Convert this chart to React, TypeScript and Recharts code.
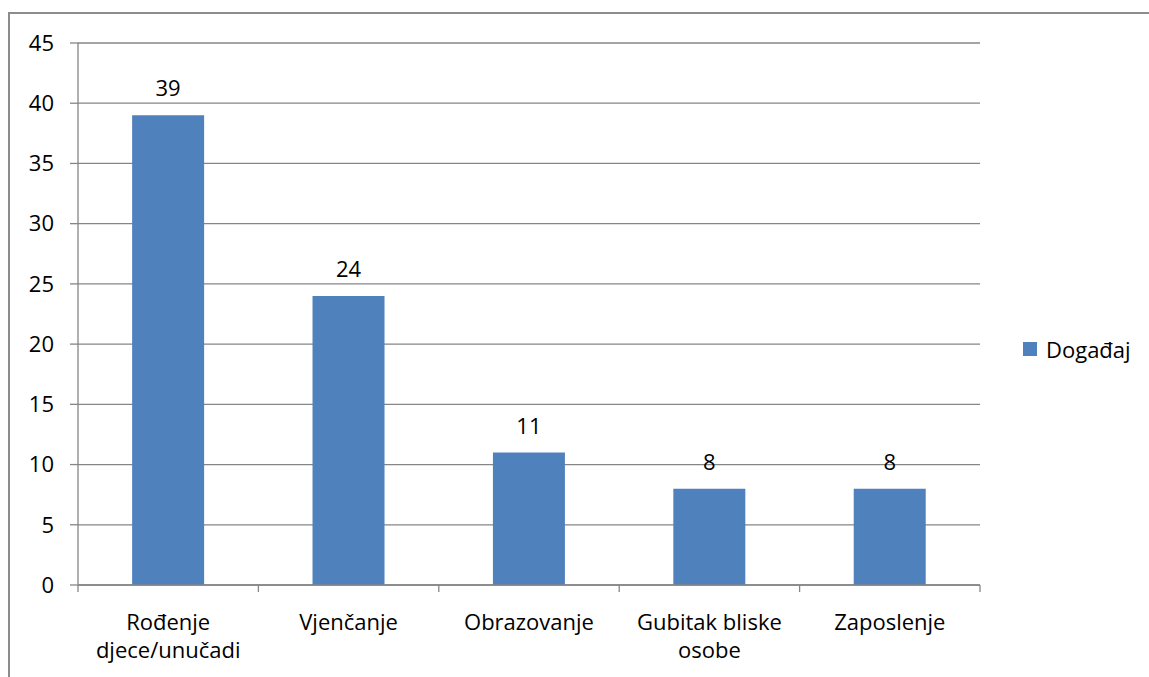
import React from 'react';
import { BarChart, Bar, XAxis, YAxis, CartesianGrid, LabelList } from 'recharts';

const categories = ['Rođenje djece/unučadi', 'Vjenčanje', 'Obrazovanje', 'Gubitak bliske osobe', 'Zaposlenje'];
// how each category label is broken onto lines under the axis
const tickLines = [['Rođenje', 'djece/unučadi'], ['Vjenčanje'], ['Obrazovanje'], ['Gubitak bliske', 'osobe'], ['Zaposlenje']];
const events = [39, 24, 11, 8, 8];
const yTicks = [0, 5, 10, 15, 20, 25, 30, 35, 40, 45];
const seriesName = 'Događaj';

const data = categories.map((name, i) => ({ name, value: events[i] }));

const FONT = '"Open Sans", Lato, sans-serif';
const FS = 22;
const GRID = '#868686';
const BAR = '#4f81bd';
const BAND = (980 - 78) / categories.length;

const CategoryTick = (props: any) => {
  const { x, y, index } = props;
  const lines = tickLines[index] || [];
  return (
    <g>
      {/* boundary tick marks between categories */}
      <line x1={x - BAND / 2} x2={x - BAND / 2} y1={y - 8} y2={y - 1} stroke={GRID} strokeWidth={1.3} />
      {index === categories.length - 1 && (
        <line x1={x + BAND / 2} x2={x + BAND / 2} y1={y - 8} y2={y - 1} stroke={GRID} strokeWidth={1.3} />
      )}
      <text textAnchor="middle" fontSize={FS} fontFamily={FONT} fill="#000">
        {lines.map((l, i) => (
          <tspan key={i} x={x} y={y + 37 + i * 28}>
            {l}
          </tspan>
        ))}
      </text>
    </g>
  );
};

export default function App() {
  return (
    <div style={{ position: 'absolute', left: 0, top: 0, width: 1149, height: 677, overflow: 'hidden', background: '#fff' }}>
      <div
        style={{
          position: 'absolute',
          left: 8,
          top: 12,
          width: 1150,
          height: 700,
          border: `2px solid #8c8c8c`,
        }}
      />
      <div style={{ position: 'absolute', left: 0, top: 0 }}>
        <BarChart
          width={1149}
          height={677}
          data={data}
          margin={{ top: 43, right: 169, bottom: 0, left: 0 }}
          barCategoryGap="30%"
        >
          <CartesianGrid vertical={false} stroke={GRID} strokeWidth={1.3} />
          <XAxis
            dataKey="name"
            axisLine={{ stroke: GRID, strokeWidth: 1.3 }}
            tickLine={false}
            tick={<CategoryTick />}
            interval={0}
            height={92}
          />
          <YAxis
            domain={[0, 45]}
            ticks={yTicks}
            width={78}
            tickSize={8}
            tickMargin={16}
            axisLine={{ stroke: GRID, strokeWidth: 1.3 }}
            tickLine={{ stroke: GRID, strokeWidth: 1.3 }}
            tick={{ fill: '#000', fontSize: FS, fontFamily: FONT }}
          />
          <Bar dataKey="value" name={seriesName} fill={BAR} isAnimationActive={false}>
            <LabelList
              dataKey="value"
              position="top"
              offset={19}
              fill="#000"
              fontSize={FS}
              fontFamily={FONT}
            />
          </Bar>
        </BarChart>
      </div>
      <div
        style={{
          position: 'absolute',
          left: 1023,
          top: 334,
          display: 'flex',
          alignItems: 'center',
          fontFamily: FONT,
          fontSize: FS,
          color: '#000',
          whiteSpace: 'nowrap',
        }}
      >
        <span style={{ width: 14, height: 14, background: BAR, display: 'inline-block', marginRight: 9 }} />
        {seriesName}
      </div>
    </div>
  );
}
